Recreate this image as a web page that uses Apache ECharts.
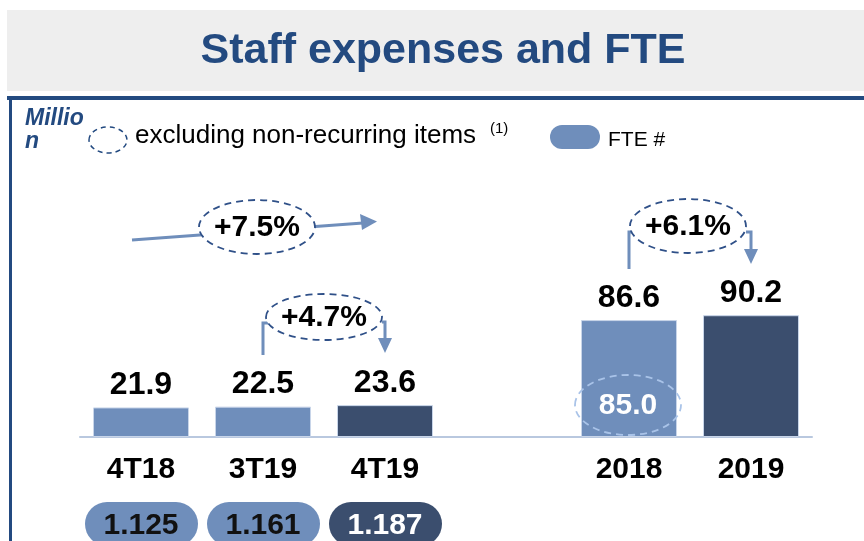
<!DOCTYPE html>
<html>
<head>
<meta charset="utf-8">
<script src="https://cdn.jsdelivr.net/npm/echarts@6/dist/echarts.min.js"></script>
<style>
  html, body { margin: 0; padding: 0; background: #fff; }
  #main { width: 864px; height: 541px; }
</style>
</head>
<body>
<div id="main"></div>
<script>
// datos
var categories = ['4T18', '3T19', '4T19', '', '2018', '2019'];
var expenses = [21.9, 22.5, 23.6, '-', 86.6, 90.2];
var currentPeriods = ['4T19', '2019'];
var fteLabels = ['1.125', '1.161', '1.187'];
var growthLabels = ['+7.5%', '+4.7%', '+6.1%'];
var recurring2018 = 85.0;

var FONT = '"Liberation Sans", Arial, sans-serif';
var LIGHT = '#6f8ebb';
var DARK = '#3b4e6e';
var NAVY = '#234a80';
var LINE = '#6f8ebb';

var myChart = echarts.init(document.getElementById('main'));

function barColor(i) {
    return currentPeriods.indexOf(categories[i]) >= 0 ? DARK : LIGHT;
}

var option = {
    animation: false,
    grid: { left: 80, right: 52, top: 302, bottom: 104 },
    xAxis: {
        type: 'category',
        data: categories,
        axisTick: { show: false },
        axisLine: { lineStyle: { color: '#b9c8df', width: 2 } },
        axisLabel: {
            margin: 18,
            color: '#000',
            fontFamily: FONT,
            fontWeight: 'bold',
            fontSize: 30
        }
    },
    yAxis: { type: 'value', min: 0, max: 100, show: false },
    series: [{
        type: 'bar',
        barWidth: 96,
        data: expenses.map(function (v, i) {
            return {
                value: v,
                itemStyle: { color: barColor(i), borderColor: '#c8d5e9', borderWidth: 1 }
            };
        }),
        label: {
            show: true,
            position: 'top',
            distance: 6,
            color: '#000',
            fontFamily: FONT,
            fontWeight: 'bold',
            fontSize: 32,
            formatter: function (p) { return p.value.toFixed(1); }
        }
    }]
};
myChart.setOption(option);

// posiciones de categorias
function cx(i) {
    return myChart.convertToPixel({ xAxisIndex: 0, yAxisIndex: 0 }, [i, 0])[0];
}
var base = myChart.convertToPixel({ xAxisIndex: 0, yAxisIndex: 0 }, [0, 0])[1];

function dashedEllipse(x, y, rx, ry, text, col, txtCol) {
    return [{
        type: 'ellipse',
        shape: { cx: x, cy: y, rx: rx, ry: ry },
        style: { fill: txtCol === '#fff' ? 'transparent' : '#fff', stroke: col, lineWidth: 1.8, lineDash: [7, 5] },
        z: 20
    }, {
        type: 'text',
        x: x, y: y + 1,
        style: {
            text: text, fill: txtCol, font: 'bold 30px ' + FONT,
            align: 'center', verticalAlign: 'middle'
        },
        z: 21
    }];
}

function line(points) {
    return {
        type: 'polyline',
        shape: { points: points },
        style: { stroke: LINE, lineWidth: 3, fill: null },
        z: 15
    };
}

function tri(points) {
    return { type: 'polygon', shape: { points: points }, style: { fill: LINE }, z: 15 };
}

var c0 = cx(0), c1 = cx(1), c2 = cx(2), c4 = cx(4), c5 = cx(5);
var g = [];

// cabecera
g.push({ type: 'rect', shape: { x: 7, y: 10, width: 857, height: 81 }, style: { fill: '#eeeeee' }, z: 1 });
g.push({
    type: 'text', x: 443, y: 51,
    style: { text: 'Staff expenses and FTE', fill: NAVY, font: 'bold 43px ' + FONT, align: 'center', verticalAlign: 'middle' },
    z: 2
});
g.push({ type: 'rect', shape: { x: 7, y: 96, width: 857, height: 4 }, style: { fill: NAVY }, z: 2 });
g.push({ type: 'rect', shape: { x: 9, y: 96, width: 3, height: 445 }, style: { fill: NAVY }, z: 2 });

// leyenda
g.push({ type: 'text', x: 25, y: 119, style: { text: 'Millio', fill: NAVY, font: 'italic bold 23px ' + FONT, verticalAlign: 'middle' } });
g.push({ type: 'text', x: 25, y: 142, style: { text: 'n', fill: NAVY, font: 'italic bold 23px ' + FONT, verticalAlign: 'middle' } });
g.push({
    type: 'ellipse', shape: { cx: 108, cy: 140, rx: 19, ry: 13 },
    style: { fill: 'transparent', stroke: NAVY, lineWidth: 1.5, lineDash: [5, 4] }
});
g.push({ type: 'text', x: 135, y: 136, style: { text: 'excluding non-recurring items', fill: '#000', font: '26px ' + FONT, verticalAlign: 'middle' } });
g.push({ type: 'text', x: 490, y: 129, style: { text: '(1)', fill: '#000', font: '15px ' + FONT, verticalAlign: 'middle' } });
g.push({ type: 'rect', shape: { x: 550, y: 125, width: 50, height: 24, r: 12 }, style: { fill: LIGHT } });
g.push({ type: 'text', x: 608, y: 140, style: { text: 'FTE #', fill: '#000', font: '21px ' + FONT, verticalAlign: 'middle' } });

// +7.5%
g.push(line([[c0 - 9, 240], [c2 - 22, 223]]));
g.push(tri([[c2 - 8, 221.5], [c2 - 25, 214], [c2 - 23, 230]]));
g = g.concat(dashedEllipse((c0 + c2) / 2 - 6, 227, 58, 27, growthLabels[0], '#2f5088', '#000'));

// +4.7%
g.push(line([[c1, base - 82], [c1, base - 114], [c1 + 5, base - 114]]));
g.push(line([[c2 - 3, base - 115], [c2, base - 115], [c2, base - 98]]));
g.push(tri([[c2 - 7, base - 99], [c2 + 7, base - 99], [c2, base - 84]]));
g = g.concat(dashedEllipse((c1 + c2) / 2, 317, 58, 23, growthLabels[1], '#2f5088', '#000'));

// +6.1%
g.push(line([[c4, 269], [c4, 232], [c4 + 3, 232]]));
g.push(line([[c5 - 5, 232], [c5, 232], [c5, 250]]));
g.push(tri([[c5 - 7, 249], [c5 + 7, 249], [c5, 264]]));
g = g.concat(dashedEllipse((c4 + c5) / 2 - 2, 226, 58, 27, growthLabels[2], '#2f5088', '#000'));

// 85.0 recurrente
g = g.concat(dashedEllipse(c4 - 1, base - 32, 53, 30, recurring2018.toFixed(1), '#a9c3e8', '#fff'));

// FTE
fteLabels.forEach(function (t, i) {
    var x = cx(i);
    var dark = currentPeriods.indexOf(categories[i]) >= 0;
    g.push({
        type: 'rect',
        shape: { x: x - 56, y: 502, width: 113, height: 44, r: 22 },
        style: { fill: dark ? DARK : LIGHT }, z: 5
    });
    g.push({
        type: 'text', x: x, y: 526,
        style: { text: t, fill: dark ? '#fff' : '#111', font: 'bold 30px ' + FONT, align: 'center', verticalAlign: 'middle' },
        z: 6
    });
});

myChart.setOption({ graphic: g });
window.onresize = myChart.resize;
</script>
</body>
</html>
